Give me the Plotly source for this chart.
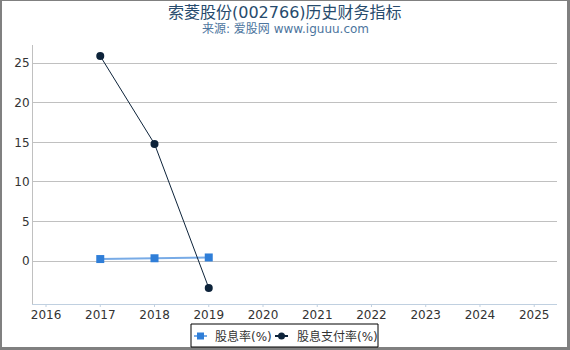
import plotly.graph_objects as go

years = [2017, 2018, 2019]
dividend_yield = [0.25, 0.35, 0.45]
payout_ratio = [25.9, 14.8, -3.4]
series_names = ["股息率(%)", "股息支付率(%)"]
series_colors = ["#2f7ed8", "#0d233a"]
line_colors = ["rgba(47,126,216,0.65)", "#0d233a"]
x_ticks = list(range(2016, 2026))
y_ticks = [0, 5, 10, 15, 20, 25]

W, H = 570, 350
ml, mr, mt, mb = 33, 13, 45, 46
pw = W - ml - mr
ph = H - mt - mb

def px(x):
    return (x - ml) / pw

def py(y):
    return (H - mb - y) / ph

font_family = "DejaVu Sans, Noto Sans CJK SC, sans-serif"

fig = go.Figure()
fig.add_trace(go.Scatter(
    x=years, y=dividend_yield, name=series_names[0], mode="lines+markers",
    line=dict(color=line_colors[0], width=2),
    marker=dict(symbol="square", size=8, color=series_colors[0]),
))
fig.add_trace(go.Scatter(
    x=years, y=payout_ratio, name=series_names[1], mode="lines+markers",
    line=dict(color=line_colors[1], width=1),
    marker=dict(symbol="circle", size=8, color=series_colors[1]),
))

annotations = [
    dict(text="索菱股份(002766)历史财务指标", xref="paper", yref="paper",
         x=px(285), y=py(12), xanchor="center", yanchor="middle",
         showarrow=False, font=dict(size=16, color="#274b6d", family=font_family)),
    dict(text="来源: 爱股网 www.iguuu.com", xref="paper", yref="paper",
         x=px(285), y=py(29), xanchor="center", yanchor="middle",
         showarrow=False, font=dict(size=12, color="#4d759e", family=font_family)),
]

border_col = "#808080"
shapes = [
    # outer border of the image (thin top/left, thicker bottom/right)
    dict(type="rect", xref="paper", yref="paper", x0=px(0), x1=px(2), y0=py(H), y1=py(0),
         line=dict(width=0), fillcolor=border_col, layer="above"),
    dict(type="rect", xref="paper", yref="paper", x0=px(0), x1=px(W), y0=py(1), y1=py(0),
         line=dict(width=0), fillcolor=border_col, layer="above"),
    dict(type="rect", xref="paper", yref="paper", x0=px(W - 3), x1=px(W), y0=py(H), y1=py(0),
         line=dict(width=0), fillcolor=border_col, layer="above"),
    dict(type="rect", xref="paper", yref="paper", x0=px(0), x1=px(W), y0=py(H), y1=py(H - 3),
         line=dict(width=0), fillcolor=border_col, layer="above"),
    # legend box
    dict(type="rect", xref="paper", yref="paper",
         x0=px(191), x1=px(378), y0=py(347), y1=py(324),
         line=dict(color="#000000", width=1), fillcolor="white", layer="above"),
]

# small x-axis tick marks (axis decoration) derived from the tick list
for t in x_ticks:
    shapes.append(dict(type="line", xref="x", yref="paper", x0=t, x1=t,
                       y0=0, y1=-3 / ph, line=dict(color="#c0d0e0", width=1)))

# custom legend entries
ly = 336
entries = [(194, 207, 213, "square"), (275, 288, 295, "circle")]
for (lx0, lx1, tx, sym), name, col, lcol in zip(entries, series_names, series_colors, line_colors):
    shapes.append(dict(type="line", xref="paper", yref="paper",
                       x0=px(lx0), x1=px(lx1), y0=py(ly), y1=py(ly),
                       line=dict(color=lcol, width=2), layer="above"))
    cx = (lx0 + lx1) / 2
    shapes.append(dict(type="rect" if sym == "square" else "circle",
                       xref="paper", yref="paper",
                       x0=px(cx - 3.5), x1=px(cx + 3.5), y0=py(ly + 3.5), y1=py(ly - 3.5),
                       line=dict(color=col, width=0), fillcolor=col, layer="above"))
    annotations.append(dict(text=name, xref="paper", yref="paper",
                            x=px(tx), y=py(ly), xanchor="left", yanchor="middle",
                            showarrow=False, font=dict(size=12, color="#333333", family=font_family)))

fig.update_layout(
    width=W, height=H,
    margin=dict(l=ml, r=mr, t=mt, b=mb, autoexpand=False),
    paper_bgcolor="white", plot_bgcolor="white",
    font=dict(family=font_family, size=12, color="#333333"),
    showlegend=False,
    xaxis=dict(
        range=[2015.76, 2025.42], tickmode="array", tickvals=x_ticks,
        ticktext=[str(v) for v in x_ticks],
        showgrid=False, zeroline=False,
        showline=True, linecolor="#c0d0e0", linewidth=1,
        ticks="", tickfont=dict(size=12, color="#333333"),
    ),
    yaxis=dict(
        range=[-5.43, 27.3], tickmode="array", tickvals=y_ticks,
        showgrid=True, gridcolor="#c0c0c0", gridwidth=1,
        zeroline=False, showline=True, linecolor="#c0c0c0", linewidth=1,
        ticks="", tickfont=dict(size=12, color="#333333"),
    ),
    annotations=annotations,
    shapes=shapes,
)

fig.write_html("out.html")
